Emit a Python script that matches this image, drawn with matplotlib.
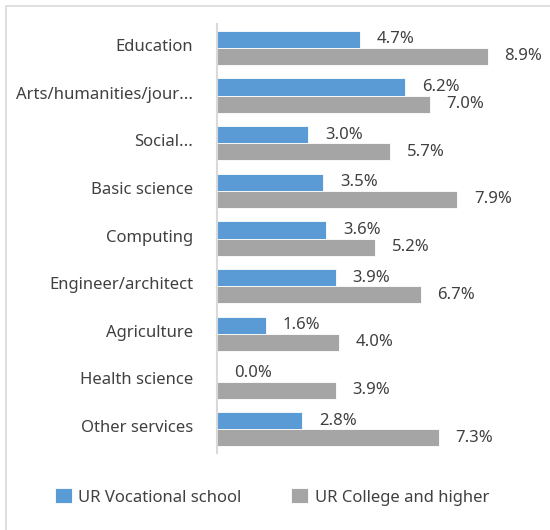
import matplotlib
matplotlib.use('Agg')
import matplotlib.pyplot as plt
import matplotlib.transforms as mtransforms
import numpy as np
from matplotlib.patches import Rectangle

plt.rcParams['font.family'] = ['Noto Sans', 'DejaVu Sans']

categories = ['Education', 'Arts/humanities/jour...', 'Social...', 'Basic science',
              'Computing', 'Engineer/architect', 'Agriculture', 'Health science',
              'Other services']
vocational = [4.7, 6.2, 3.0, 3.5, 3.6, 3.9, 1.6, 0.0, 2.8]
college = [8.9, 7.0, 5.7, 7.9, 5.2, 6.7, 4.0, 3.9, 7.3]
series_names = ['UR Vocational school', 'UR College and higher']

blue = '#5B9BD5'
gray = '#A5A5A5'
text_color = '#404040'

fig = plt.figure(figsize=(5.5, 5.3), dpi=100)
ax = fig.add_axes([217 / 550, 1 - 453 / 530, (521 - 217) / 550, (453 - 24) / 530])

# outer chart border (only left/top visible in the image)
fig.patches.append(Rectangle((6 / 550, -0.1), 1.2, 1 - 6 / 530 + 0.1,
                             transform=fig.transFigure, fill=False,
                             edgecolor='#D9D9D9', linewidth=1.2))

y = np.arange(len(categories))
h = 0.36
b1 = ax.barh(y - h / 2, vocational, height=h, color=blue, edgecolor='white',
             linewidth=0.6, label=series_names[0])
b2 = ax.barh(y + h / 2, college, height=h, color=gray, edgecolor='white',
             linewidth=0.6, label=series_names[1])

for bars, vals in ((b1, vocational), (b2, college)):
    for bar, v in zip(bars, vals):
        ax.annotate('%.1f%%' % v, (bar.get_width(), bar.get_y() + bar.get_height() / 2),
                    xytext=(12, 0), textcoords='offset points', ha='left', va='center',
                    fontsize=12, color=text_color)

ax.set_xlim(0, 10)
ax.set_ylim(len(categories) - 0.5, -0.5)
ax.set_yticks(y)
ax.set_yticklabels(categories, fontsize=12, color=text_color)
ax.tick_params(axis='y', length=0, pad=17)
# category labels sit a little above the group centre
shift = mtransforms.ScaledTranslation(0, 3 / 100, fig.dpi_scale_trans)
for lbl in ax.get_yticklabels():
    lbl.set_transform(lbl.get_transform() + shift)
ax.set_xticks([])
for s in ['top', 'right', 'bottom']:
    ax.spines[s].set_visible(False)
ax.spines['left'].set_color('#D9D9D9')
ax.spines['left'].set_linewidth(1.5)

fig.legend(handles=[b1, b2], labels=series_names, loc='center',
           bbox_to_anchor=(272 / 550, 1 - 497 / 530), ncol=2, frameon=False,
           fontsize=12, labelcolor=text_color, handlelength=1.0, handleheight=1.0,
           handletextpad=0.4, columnspacing=3.0)

fig.savefig('out.png', dpi=100)
